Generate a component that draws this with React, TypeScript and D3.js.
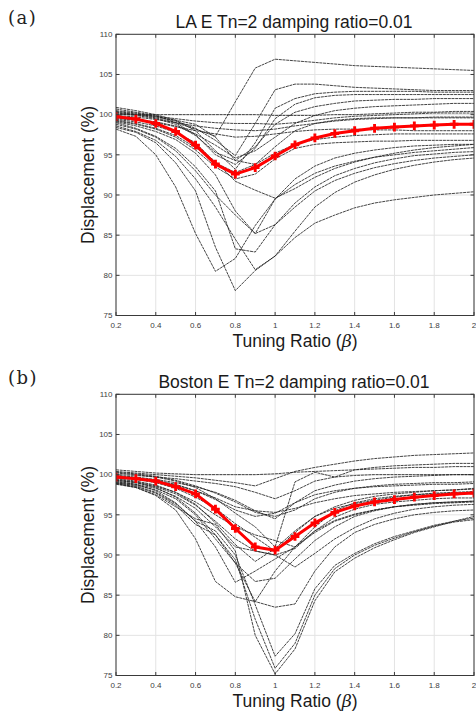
import React from "react";
import * as d3 from "d3";

const xs = [0.2, 0.3, 0.4, 0.5, 0.6, 0.7, 0.8, 0.9, 1.0, 1.1, 1.2, 1.3, 1.4, 1.5, 1.6, 1.7, 1.8, 1.9, 2.0];
const xTicks = [0.2, 0.4, 0.6, 0.8, 1, 1.2, 1.4, 1.6, 1.8, 2];
const yTicks = [75, 80, 85, 90, 95, 100, 105, 110];

const titleA = "LA E Tn=2 damping ratio=0.01";
const titleB = "Boston E Tn=2 damping ratio=0.01";

const meanA = [99.75, 99.45, 98.9, 97.9, 96.2, 93.85, 92.6, 93.4, 94.85, 96.25, 97.1, 97.65, 98.0, 98.3, 98.45, 98.6, 98.7, 98.8, 98.8];
const meanB = [99.7, 99.5, 99.2, 98.5, 97.6, 95.7, 93.3, 91.0, 90.6, 92.3, 94.0, 95.3, 96.1, 96.6, 96.9, 97.2, 97.4, 97.6, 97.7];

const recordsA = [
  [100.3, 100.0, 99.6, 99.0, 98.2, 97.3, 101.6, 105.8, 106.9, 106.7, 106.5, 106.3, 106.1, 106.0, 105.9, 105.8, 105.7, 105.6, 105.5],
  [100.5, 100.2, 99.8, 99.2, 98.3, 96.8, 94.9, 98.9, 103.1, 103.8, 103.8, 103.6, 103.4, 103.3, 103.2, 103.1, 103.0, 103.0, 103.0],
  [100.9, 100.5, 100.0, 99.3, 98.0, 95.5, 93.2, 96.5, 100.8, 102.0, 102.6, 102.8, 102.9, 102.9, 102.9, 102.9, 102.8, 102.8, 102.8],
  [100.7, 100.3, 99.9, 99.0, 97.5, 95.0, 93.8, 95.8, 99.5, 101.3, 102.1, 102.4, 102.5, 102.5, 102.5, 102.5, 102.5, 102.5, 102.5],
  [100.1, 99.9, 99.5, 98.8, 97.4, 95.3, 94.3, 96.0, 98.8, 100.3, 101.0, 101.4, 101.7, 101.8, 101.9, 101.9, 102.0, 102.0, 102.0],
  [99.6, 99.4, 99.1, 98.6, 97.6, 96.2, 94.6, 95.5, 97.2, 98.9, 99.9, 100.5, 100.8, 101.0, 101.1, 101.2, 101.3, 101.4, 101.4],
  [100.0, 100.0, 100.0, 100.0, 100.0, 100.0, 100.0, 100.0, 99.9, 99.9, 99.9, 100.0, 100.0, 100.1, 100.2, 100.3, 100.3, 100.4, 100.4],
  [100.2, 100.0, 99.8, 99.5, 99.2, 99.0, 98.9, 98.9, 98.8, 99.0, 99.3, 99.6, 99.8, 99.9, 100.0, 100.1, 100.2, 100.2, 100.2],
  [99.9, 99.7, 99.4, 99.0, 98.6, 98.3, 98.1, 98.0, 98.2, 98.6, 98.9, 99.2, 99.4, 99.5, 99.6, 99.6, 99.7, 99.7, 99.7],
  [99.5, 99.3, 99.0, 98.5, 98.0, 97.6, 97.2, 97.3, 97.6, 97.9, 98.1, 98.2, 98.2, 98.1, 98.1, 98.0, 98.0, 98.0, 98.0],
  [99.2, 98.8, 98.2, 97.2, 95.6, 93.5, 92.0, 92.6, 94.5, 95.8, 96.3, 96.5, 96.6, 96.7, 96.7, 96.8, 96.8, 96.8, 96.8],
  [99.3, 98.9, 98.3, 97.4, 95.9, 94.2, 91.7, 90.6, 89.6, 90.8, 92.2, 93.3, 94.1, 94.7, 95.2, 95.6, 95.9, 96.1, 96.3],
  [98.8, 98.2, 97.2, 95.5, 93.0, 90.0, 87.5, 85.2, 86.3, 88.5, 90.5, 91.8, 92.7, 93.4, 93.9, 94.3, 94.6, 94.8, 95.0],
  [98.6, 97.9, 96.8, 94.8, 92.0, 88.5, 84.5, 80.7, 82.4, 85.5, 88.5, 90.3, 91.6, 92.5, 93.2, 93.7, 94.1, 94.4, 94.6],
  [99.0, 98.3, 97.3, 95.8, 93.5, 90.5, 83.3, 82.9, 86.3, 89.0, 91.0, 92.4, 93.3, 94.0, 94.5, 94.9, 95.1, 95.3, 95.4],
  [98.2, 97.3, 95.0, 91.0, 85.2, 80.5, 82.1, 86.2, 89.5, 91.3, 92.7, 93.6, 94.2, 94.7, 95.0, 95.3, 95.5, 95.7, 95.9],
  [98.4, 97.8, 96.5, 94.0, 90.5, 83.5, 78.1, 80.6, 82.4, 84.7, 86.5, 87.5, 88.4, 89.0, 89.4, 89.7, 90.0, 90.2, 90.4],
  [99.4, 99.1, 98.6, 97.8, 96.5, 94.0, 92.8, 93.8, 95.2, 96.3, 96.9, 97.2, 97.4, 97.5, 97.6, 97.6, 97.6, 97.6, 97.6],
  [100.4, 100.1, 99.7, 99.3, 98.8, 97.2, 94.3, 93.8, 96.0, 98.0, 98.9, 99.3, 99.5, 99.6, 99.6, 99.6, 99.6, 99.6, 99.6],
  [99.1, 98.6, 97.9, 96.9, 95.2, 92.5, 88.0, 85.2, 89.5, 92.0, 93.6, 94.6, 95.2, 95.6, 95.9, 96.1, 96.2, 96.3, 96.3],
];

const recordsB = [
  [100.6, 100.4, 100.2, 100.1, 100.0, 100.0, 100.0, 100.0, 100.1, 100.3, 100.4, 100.5, 100.6, 100.7, 100.8, 100.9, 100.9, 101.0, 101.0],
  [100.4, 100.2, 100.0, 99.8, 99.6, 99.3, 99.0, 98.6, 99.5, 100.4, 100.9, 101.3, 101.7, 102.0, 102.2, 102.4, 102.5, 102.6, 102.7],
  [100.2, 100.0, 99.7, 99.2, 98.4, 97.0, 95.2, 93.5, 91.0, 99.1, 100.3, 99.7, 100.6, 100.9, 101.1, 101.2, 101.3, 101.4, 101.4],
  [100.0, 99.9, 99.7, 99.5, 99.2, 98.9, 98.5, 97.8, 97.0, 98.0, 99.2, 99.7, 99.9, 100.0, 100.0, 100.0, 100.0, 100.0, 100.0],
  [99.9, 99.7, 99.4, 99.0, 98.5, 97.8, 96.8, 95.5, 94.5, 96.5, 98.0, 98.7, 99.2, 99.5, 99.7, 99.8, 99.9, 100.0, 100.0],
  [100.3, 100.1, 99.8, 99.3, 98.6, 97.7, 96.6, 95.3, 94.8, 95.6, 97.0, 97.8, 98.3, 98.6, 98.8, 98.9, 99.0, 99.0, 99.1],
  [99.8, 99.6, 99.3, 98.8, 98.0, 96.9, 95.6, 94.8, 95.2, 96.5, 97.5, 98.0, 98.3, 98.5, 98.6, 98.7, 98.8, 98.8, 98.9],
  [99.6, 99.4, 99.0, 98.3, 97.2, 95.8, 93.9, 92.2, 90.5, 92.8, 94.8, 96.0, 96.8, 97.3, 97.6, 97.8, 98.0, 98.1, 98.3],
  [99.5, 99.2, 98.7, 97.8, 96.3, 94.0, 91.3, 89.2, 90.8, 93.0, 94.8, 95.8, 96.4, 96.8, 97.2, 97.5, 97.7, 97.8, 97.9],
  [99.3, 99.0, 98.5, 97.6, 96.2, 94.2, 92.0, 90.5, 90.0, 90.8, 93.0, 94.7, 95.7, 96.3, 96.6, 96.8, 97.0, 97.1, 97.1],
  [99.0, 98.7, 98.1, 97.0, 95.0, 92.0, 89.0, 86.7, 87.1, 89.5, 91.8, 93.5, 94.8, 95.5, 96.0, 96.3, 96.5, 96.6, 96.7],
  [99.1, 98.8, 98.3, 97.3, 95.8, 93.5, 91.0, 90.5, 90.0, 88.5, 90.2, 92.0, 93.4, 94.5, 95.2, 95.7, 96.0, 96.2, 96.3],
  [98.9, 98.4, 97.4, 95.6, 92.0, 86.7, 84.8, 84.2, 83.5, 83.9, 88.0, 91.0, 92.8, 93.8, 94.5, 95.0, 95.3, 95.5, 95.6],
  [99.2, 98.8, 98.0, 96.5, 94.2, 91.0, 86.6, 88.0, 89.5, 91.0, 92.8, 94.2, 95.0, 95.6, 96.0, 96.3, 96.5, 96.6, 96.7],
  [99.0, 98.6, 97.8, 96.4, 94.2, 93.0, 90.0, 83.8, 77.4, 80.2, 85.8, 88.7, 90.2, 91.4, 92.3, 93.0, 93.7, 94.2, 94.6],
  [98.9, 98.5, 97.7, 96.2, 93.8, 92.5, 89.4, 82.0, 75.9, 79.0, 85.0, 88.3, 90.0, 91.2, 92.1, 92.9, 93.6, 94.1, 94.4],
  [98.8, 98.4, 97.5, 96.0, 94.5, 93.8, 90.5, 80.0, 75.2, 78.3, 84.3, 87.9, 89.6, 90.9, 91.9, 92.8, 93.5, 94.2, 94.8],
  [99.3, 99.0, 98.4, 97.2, 95.2, 92.5, 89.0, 84.2, 88.0, 91.0, 93.0, 94.3, 95.1, 95.6, 96.0, 96.2, 96.4, 96.5, 96.6],
  [99.7, 99.5, 99.2, 98.7, 98.0, 97.1, 96.0, 95.5, 95.3, 95.8, 96.5, 97.0, 97.4, 97.6, 97.8, 97.9, 98.0, 98.1, 98.2],
  [99.4, 99.1, 98.6, 97.8, 96.6, 95.0, 93.5, 92.5, 91.8, 91.0, 93.5, 95.5, 96.5, 97.0, 97.3, 97.5, 97.6, 97.7, 97.8],
];

const X0 = 116;
const X1 = 474;
const YT = 34.3;
const YB = 315.5;
const SANS = "'Liberation Sans', Arial, sans-serif";

function Panel({ top, label, title, records, mean, clipId }) {
  const x = d3.scaleLinear().domain([0.2, 2]).range([X0, X1]);
  const y = d3.scaleLinear().domain([75, 110]).range([YB, YT]);
  const line = d3
    .line<number>()
    .x((_, i) => x(xs[i]))
    .y((d) => y(d));
  const cross = d3.symbol().type(d3.symbolCross).size(42)();
  return (
    <g transform={`translate(0,${top})`}>
      <defs>
        <clipPath id={clipId}>
          <rect x={X0} y={YT} width={X1 - X0} height={YB - YT} />
        </clipPath>
      </defs>
      <text x={8} y={24} fontFamily="'DejaVu Serif', serif" fontSize={18} fill="#222">
        (<tspan dx={1.5}>{label}</tspan><tspan dx={1.5}>)</tspan>
      </text>
      <text x={294} y={28} textAnchor="middle" fontFamily={SANS} fontSize={17.5} fill="#1a1a1a">
        {title}
      </text>
      <rect x={X0} y={YT} width={X1 - X0} height={YB - YT} fill="#fff" />
      {xTicks.map((t) => (
        <line key={"gx" + t} x1={x(t)} x2={x(t)} y1={YT} y2={YB} stroke="#e3e3e3" strokeWidth={1} />
      ))}
      {yTicks.map((t) => (
        <line key={"gy" + t} x1={X0} x2={X1} y1={y(t)} y2={y(t)} stroke="#e3e3e3" strokeWidth={1} />
      ))}
      <g clipPath={`url(#${clipId})`}>
        {records.map((r, i) => (
          <path key={i} d={line(r) || ""} fill="none" stroke="#222" strokeWidth={0.85} strokeDasharray="3 0.7" />
        ))}
        <path d={line(mean) || ""} fill="none" stroke="#ff0000" strokeWidth={3} strokeLinejoin="round" />
        {mean.map((v, i) => (
          <path key={"m" + i} d={cross || ""} transform={`translate(${x(xs[i])},${y(v)})`} fill="#ff0000" />
        ))}
      </g>
      <rect x={X0} y={YT} width={X1 - X0} height={YB - YT} fill="none" stroke="#3a3a3a" strokeWidth={1} />
      {xTicks.map((t) => (
        <g key={"tx" + t}>
          <line x1={x(t)} x2={x(t)} y1={YB} y2={YB - 3.5} stroke="#3a3a3a" />
          <line x1={x(t)} x2={x(t)} y1={YT} y2={YT + 3.5} stroke="#3a3a3a" />
          <text x={x(t)} y={328} textAnchor="middle" fontFamily={SANS} fontSize={8} fill="#404040">
            {String(t)}
          </text>
        </g>
      ))}
      {yTicks.map((t) => (
        <g key={"ty" + t}>
          <line x1={X0} x2={X0 + 3.5} y1={y(t)} y2={y(t)} stroke="#3a3a3a" />
          <line x1={X1} x2={X1 - 3.5} y1={y(t)} y2={y(t)} stroke="#3a3a3a" />
          <text x={112.5} y={y(t) + 2.8} textAnchor="end" fontFamily={SANS} fontSize={8} fill="#404040">
            {String(t)}
          </text>
        </g>
      ))}
      <text
        transform={`translate(94,${(YT + YB) / 2}) rotate(-90)`}
        textAnchor="middle"
        fontFamily={SANS}
        fontSize={17.5}
        fill="#1a1a1a"
      >
        Displacement (%)
      </text>
      <text x={295} y={347} textAnchor="middle" fontFamily={SANS} fontSize={17.5} fill="#1a1a1a">
        Tuning Ratio (<tspan fontStyle="italic" fontFamily="'DejaVu Serif', serif">β</tspan>)
      </text>
    </g>
  );
}

export default function App() {
  return (
    <svg
      width={476}
      height={715}
      viewBox="0 0 476 715"
      style={{ position: "absolute", left: 0, top: 0, background: "#fff" }}
    >
      <rect x={0} y={0} width={476} height={715} fill="#fff" />
      <Panel top={0} label="a" title={titleA} records={recordsA} mean={meanA} clipId="clipA" />
      <Panel top={360} label="b" title={titleB} records={recordsB} mean={meanB} clipId="clipB" />
    </svg>
  );
}
